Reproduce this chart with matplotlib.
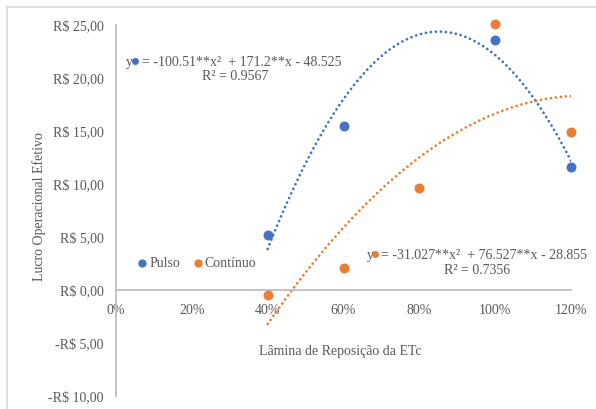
import numpy as np
import matplotlib
matplotlib.use("Agg")
import matplotlib.pyplot as plt
from matplotlib.lines import Line2D
from matplotlib.ticker import FuncFormatter

# Lucro operacional por lâmina de reposição
lamina = [0.4, 0.6, 1.0, 1.2]
pulso = [5.2, 15.5, 23.6, 11.6]
lamina_cont = [0.4, 0.6, 0.8, 1.0, 1.2]
continuo = [-0.5, 2.1, 9.6, 25.1, 14.9]

# Coeficientes das tendências polinomiais (a, b, c)
coef_pulso = [-100.51, 171.2, -48.525]
coef_cont = [-31.027, 76.527, -28.855]
r2_pulso = 0.9567
r2_cont = 0.7356

azul = "#4472C4"
laranja = "#ED7D31"
cinza = "#595959"
eixo = "#BFBFBF"

plt.rcParams["font.family"] = ["Liberation Serif", "DejaVu Serif"]

fig = plt.figure(figsize=(5.96, 4.09), dpi=100)
ax = fig.add_axes([116 / 596, 13 / 409, 455 / 596, 371 / 409])

ax.scatter(lamina, pulso, s=38, color=azul, zorder=3, label="Pulso", clip_on=False)
ax.scatter(lamina_cont, continuo, s=38, color=laranja, zorder=3, label="Contínuo",
           clip_on=False)

xt = np.linspace(0.4, 1.2, 200)
for coef, cor in [(coef_pulso, azul), (coef_cont, laranja)]:
    ax.plot(xt, np.polyval(coef, xt), color=cor, lw=2.0,
            linestyle=(0, (0.01, 1.8)), dash_capstyle="round", zorder=2)

ax.set_xlim(0, 1.2)
ax.set_ylim(-10, 25)
ax.set_xticks(np.arange(0, 1.21, 0.2))
ax.set_yticks(np.arange(-10, 26, 5))
ax.xaxis.set_major_formatter(FuncFormatter(lambda v, p: f"{v * 100:.0f}%"))


def reais(v, p):
    s = f"R$ {abs(v):.2f}".replace(".", ",")
    return "-" + s if v < 0 else s


ax.yaxis.set_major_formatter(FuncFormatter(reais))
ax.tick_params(length=0, labelsize=10, labelcolor=cinza)
ax.tick_params(axis="x", pad=10)
ax.tick_params(axis="y", pad=9)

for lado in ["top", "right"]:
    ax.spines[lado].set_visible(False)
ax.spines["bottom"].set_position(("data", 0))
ax.spines["left"].set_position(("data", 0))
for lado in ["bottom", "left"]:
    ax.spines[lado].set_color(eixo)
    ax.spines[lado].set_linewidth(1.3)

ax.set_ylabel("Lucro Operacional Efetivo", fontsize=10, color=cinza)
ax.yaxis.set_label_coords(-0.153, 0.51)
fig.text(340 / 596, 1 - 352 / 409, "Lâmina de Reposição da ETc",
         fontsize=10, color=cinza, ha="center", va="center")


# Rótulos das linhas de tendência: "y", marcador da série, equação e R²
def rotulo(x_y, x_eq, y1, x_r2, y2, coef, r2, cor):
    a, b, c = coef
    ax.text(x_y, y1, "y", fontsize=10, color=cinza, ha="left", va="center")
    ax.plot([(x_y + x_eq) / 2 + 0.004], [y1 + 0.1], "o", ms=4, color=cor,
            clip_on=False)
    ax.text(x_eq, y1, f"= {a}**x²  + {b}**x - {abs(c)}", fontsize=10,
            color=cinza, ha="left", va="center")
    ax.text(x_r2, y2, f"R² = {r2}", fontsize=10, color=cinza,
            ha="center", va="center")


rotulo(0.026, 0.068, 21.5, 0.315, 20.1, coef_pulso, r2_pulso, azul)
rotulo(0.661, 0.699, 3.3, 0.951, 1.8, coef_cont, r2_cont, laranja)

ax.legend(loc="center left", bbox_to_anchor=(0.03, 0.358), ncol=2, frameon=False,
          fontsize=10, labelcolor=cinza, handletextpad=0.0, columnspacing=0.8,
          markerscale=0.8, handlelength=1.0, borderaxespad=0)

# Moldura do gráfico
fig.add_artist(Line2D([7 / 596, 1], [1 - 7 / 409] * 2, color="#D9D9D9", lw=1.2))
fig.add_artist(Line2D([7 / 596] * 2, [0, 1 - 7 / 409], color="#D9D9D9", lw=1.2))

fig.savefig("out.png", dpi=100)
